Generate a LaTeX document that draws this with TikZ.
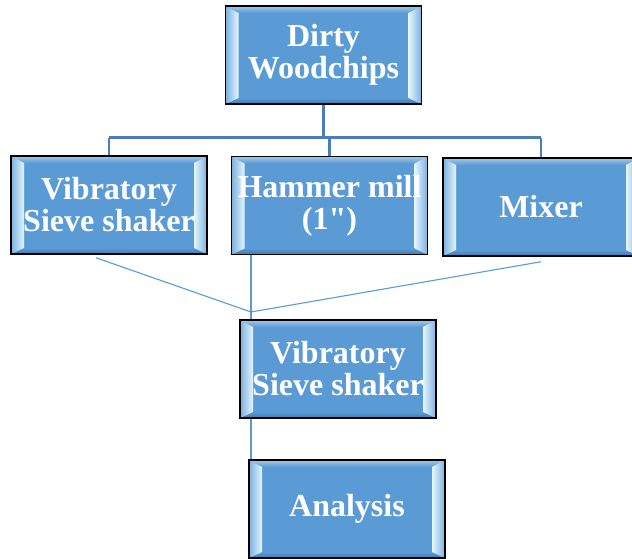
\documentclass[tikz,border=0pt]{standalone}
\usepackage{fontspec}
\setmainfont{Liberation Serif}[Ligatures=TeXOff]
\usetikzlibrary{calc}

\definecolor{boxblue}{HTML}{5B9BD5}
\definecolor{bevelhi}{HTML}{E4F7FF}
\definecolor{bevellow}{HTML}{3E78B2}
\definecolor{treeblue}{HTML}{4A7EBB}

\tikzset{
  stage/.style={draw=black, line width=1.5pt, fill=boxblue, text=white,
    minimum width=196pt, minimum height=98pt, inner sep=0pt, align=center,
    font=\bfseries\fontsize{32}{32}\selectfont,
    path picture={
      \path (path picture bounding box.north west) coordinate (pnw)
            (path picture bounding box.south east) coordinate (pse);
      \shade[top color=boxblue!55!white, bottom color=boxblue]
        (pnw) -- (pnw -| pse) -- ($(pnw -| pse)+(-13pt,-7pt)$) -- ($(pnw)+(13pt,-7pt)$) -- cycle;
      \shade[top color=boxblue, bottom color=bevellow]
        (pse) -- (pse -| pnw) -- ($(pse -| pnw)+(13pt,6pt)$) -- ($(pse)+(-13pt,6pt)$) -- cycle;
      \shade[left color=boxblue!80!white, right color=bevelhi]
        (pnw) -- (pse -| pnw) -- ($(pse -| pnw)+(13pt,6pt)$) -- ($(pnw)+(13pt,-7pt)$) -- cycle;
      \shade[left color=bevelhi, right color=boxblue!80!white]
        (pnw -| pse) -- (pse) -- ($(pse)+(-13pt,6pt)$) -- ($(pnw -| pse)+(-13pt,-7pt)$) -- cycle;
    }},
  tree/.style={treeblue, line width=2.6pt},
  link/.style={boxblue, line width=2.2pt},
  thinlink/.style={boxblue, line width=1.1pt}
}

\begin{document}
\begin{tikzpicture}[x=1pt, y=-1pt]
    \useasboundingbox (0,0) rectangle (632,558);
    \clip (0,0) rectangle (632,558);
    % boxes
    \node[stage] (dirty) at (323.5,55) {Dirty\\Woodchips};
    \node[stage] (sieveA) at (109,205) {Vibratory\\Sieve shaker};
    \node[stage] (hammer) at (329.5,205.5) {Hammer mill\\(1")};
    \node[stage] (mixer) at (541,207) {Mixer};
    \node[stage] (sieveB) at (338,369) {Vibratory\\Sieve shaker};
    \node[stage] (analysis) at (347,509) {Analysis};
    % tree below the first box
    \coordinate (split) at ($(dirty.south)+(0,33)$);
    \draw[tree] (dirty.south) -- (split);
    \draw[tree] (split -| sieveA.north) -- (split -| mixer.north);
    \foreach \n in {sieveA,hammer,mixer}
        \draw[tree] (split -| \n.north) -- (\n.north);
    % lines into the second sieve
    \coordinate (meet) at (251,312);
    \draw[thinlink] ($(sieveA.south)+(-13,3)$) -- (meet) -- ($(mixer.south)+(0,5)$);
    \draw[link] (hammer.south -| meet) -- (sieveB.north -| meet);
    \draw[link] (sieveB.south -| meet) -- (analysis.north -| meet);
\end{tikzpicture}
\end{document}
